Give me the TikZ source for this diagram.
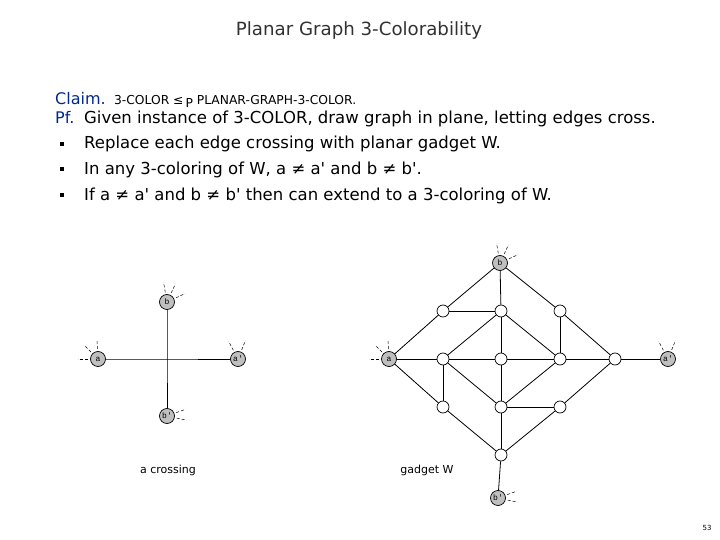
\documentclass[tikz,border=0pt]{standalone}
\usepackage{fontspec}
\setmainfont{DejaVu Sans}
\setmonofont{Liberation Mono}
\definecolor{claimblue}{RGB}{0,40,140}
\definecolor{titlegray}{RGB}{50,50,50}
\newcommand{\sqt}{\textquotesingle}
\begin{document}
\begin{tikzpicture}[x=1pt,y=-1pt,
  term/.style={circle,draw=black,line width=0.7pt,fill=black!25,minimum size=15pt,inner sep=0pt,font=\ttfamily\fontsize{8}{8}\selectfont},
  inner/.style={circle,draw=black,line width=0.7pt,fill=white,minimum size=12pt,inner sep=0pt},
  edge/.style={line width=0.8pt},
  stub/.style={line width=0.5pt,dash pattern=on 3pt off 2pt},
  txt/.style={anchor=base west,inner sep=0pt},
  bulletbox/.style={fill=black,minimum size=3.5pt,inner sep=0pt}]
\useasboundingbox (0,0) rectangle (720,540);
% title and text
\node[anchor=base,inner sep=0pt,text=titlegray,font=\fontsize{18.2}{18}\selectfont] (title) at (359,36) {Planar Graph 3-Colorability};
\node[txt,text=claimblue,font=\fontsize{16}{16}\selectfont] (claim) at (55,105) {Claim.};
\node[txt,font=\fontsize{12.3}{13}\selectfont] (claimtxt) at ([xshift=8pt]claim.base east) {3-COLOR ≤\,\raisebox{-2.5pt}{P} PLANAR-GRAPH-3-COLOR.};
\node[txt,text=claimblue,font=\fontsize{16}{16}\selectfont] (pf) at (55,124) {Pf.};
\node[txt,font=\fontsize{16.5}{16}\selectfont] (pftxt) at (84,124) {Given instance of 3-COLOR, draw graph in plane, letting edges cross.};
\node[bulletbox] (b1) at (62,144) {};
\node[bulletbox] (b2) at (62,169) {};
\node[bulletbox] (b3) at (62,195) {};
\node[txt,font=\fontsize{16.5}{16}\selectfont] (l1) at (84,149) {Replace each edge crossing with planar gadget W.};
\node[txt,font=\fontsize{16.5}{16}\selectfont] (l2) at (84,175) {In any 3-coloring of W, a ≠ a\sqt{} and b ≠ b\sqt.};
\node[txt,font=\fontsize{16.5}{16}\selectfont] (l3) at (84,201) {If a ≠ a\sqt{} and b ≠ b\sqt{} then can extend to a 3-coloring of W.};
% crossing
\coordinate (x) at (167,359);
\node[term] (cb) at (167,302) {b};
\node[term] (ca) at (98,359) {a};
\node[term] (cap) at (238,359) {a\sqt};
\node[term] (cbp) at (167,416) {b\sqt};
\draw[edge] (ca) -- (x) -- (cap);
\draw[edge] (cb) -- (x) -- (cbp);
\node[font=\fontsize{11}{11}\selectfont] (clab) at (168,470) {a crossing};
% gadget
\node[term] (gb) at (500,263) {b};
\node[term] (ga) at (389,359) {a};
\node[term] (gap) at (668,359) {a\sqt};
\node[term] (gbp) at (498,498) {b\sqt};
\node[inner] (n11) at (443,311) {};
\node[inner] (n12) at (501,311) {};
\node[inner] (n13) at (560,311) {};
\node[inner] (n21) at (443,359) {};
\node[inner] (n22) at (501,359) {};
\node[inner] (n23) at (560,359) {};
\node[inner] (n24) at (615,359) {};
\node[inner] (n31) at (443,407) {};
\node[inner] (n32) at (501,407) {};
\node[inner] (n33) at (560,407) {};
\node[inner] (n41) at (501,455) {};
\draw[edge] (gb) -- (n11); \draw[edge] (gb) -- (n12); \draw[edge] (gb) -- (n13);
\draw[edge] (n11) -- (n12);
\draw[edge] (ga) -- (n11);
\draw[edge] (n12) -- (n21); \draw[edge] (n12) -- (n22); \draw[edge] (n12) -- (n23);
\draw[edge] (n13) -- (n23); \draw[edge] (n13) -- (n24);
\draw[edge] (ga) -- (n21); \draw[edge] (n21) -- (n22); \draw[edge] (n22) -- (n23);
\draw[edge] (n23) -- (n24); \draw[edge] (n24) -- (gap);
\draw[edge] (ga) -- (n31);
\draw[edge] (n21) -- (n31); \draw[edge] (n21) -- (n32);
\draw[edge] (n22) -- (n32); \draw[edge] (n23) -- (n32);
\draw[edge] (n32) -- (n33); \draw[edge] (n24) -- (n33);
\draw[edge] (n31) -- (n41); \draw[edge] (n32) -- (n41); \draw[edge] (n33) -- (n41);
\draw[edge] (n41) -- (gbp);
\node[font=\fontsize{11}{11}\selectfont] (glab) at (427,470) {gadget W};
% stubs
\foreach \n in {cb,gb}{
  \foreach \ang in {100,65,25}{\draw[stub] (\n.\ang) ++({2*cos(\ang)},{-2*sin(\ang)}) -- ++({10*cos(\ang)},{-10*sin(\ang)});}}
\foreach \n in {ca,ga}{
  \foreach \ang in {93,135,180}{\draw[stub] (\n.\ang) ++({2*cos(\ang)},{-2*sin(\ang)}) -- ++({10*cos(\ang)},{-10*sin(\ang)});}}
\foreach \n in {cap,gap}{
  \foreach \ang in {118,68}{\draw[stub] (\n.\ang) ++({2*cos(\ang)},{-2*sin(\ang)}) -- ++({10*cos(\ang)},{-10*sin(\ang)});}}
\foreach \n in {cbp,gbp}{
  \foreach \ang in {20,-12}{\draw[stub] (\n.\ang) ++({2*cos(\ang)},{-2*sin(\ang)}) -- ++({10*cos(\ang)},{-10*sin(\ang)});}}
% page number
\node[font=\fontsize{7}{7}\selectfont] (pg) at (707,528) {53};
\end{tikzpicture}
\end{document}
